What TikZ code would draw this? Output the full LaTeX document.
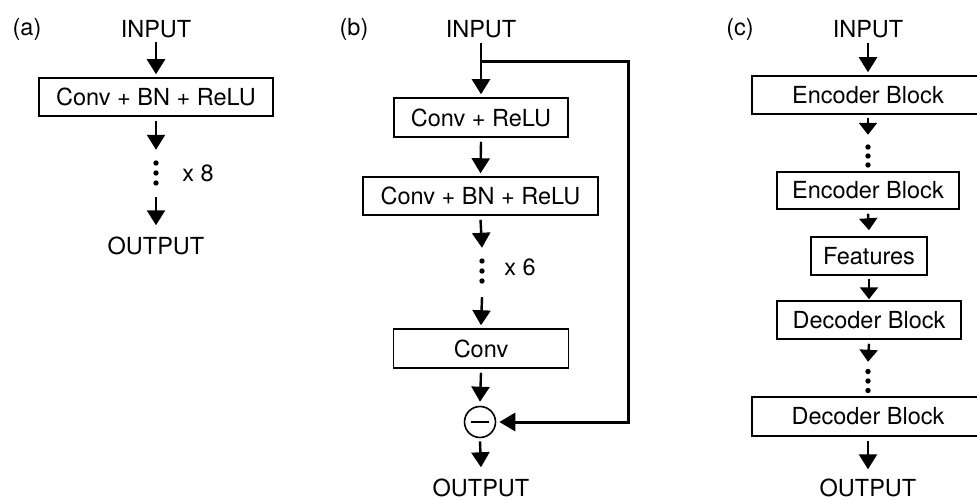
\documentclass[tikz,border=0pt]{standalone}
\usepackage{fontspec}
\setmainfont{TeX Gyre Heros}
\usetikzlibrary{arrows.meta}
\begin{document}
\begin{tikzpicture}[x=1pt,y=-1pt,
  every node/.style={font=\fontsize{23.5}{28}\selectfont},
  txt/.style={inner sep=0pt, text height=17pt, text depth=0pt},
  blk/.style={draw, line width=1.5pt, inner sep=0pt, minimum height=38pt},
  dotcol/.style={inner sep=0pt, minimum width=6pt, minimum height=26pt},
  arr/.style={line width=2.4pt, -{Triangle[width=18pt,length=15pt]}},
  shortarr/.style={line width=2.4pt, -{Triangle[width=18pt,length=12pt]}},
  skipline/.style={line width=3pt, line join=miter, -{Triangle[width=18pt,length=16pt]}},
  sumnode/.style={draw, circle, line width=1.6pt, inner sep=0pt, minimum size=31pt},
]
\useasboundingbox (0,0) rectangle (977,500);
\clip (0,0) rectangle (977,500);

% ---------------- (a) plain stack ----------------
\node[txt] (la) at (27,27) {(a)};
\node[txt] (inA) at (156,29.5) {INPUT};
\node[blk, minimum width=234pt] (boxA) at (156,97) {Conv + BN + ReLU};
\node[dotcol] (dotsA) at (156,173) {};
\foreach \d in {-10,0,10} \fill ([yshift=\d pt]dotsA.center) circle (2.7pt);
\node[txt] (xA) at (198,173) {x 8};
\node[txt] (outA) at (156,246) {OUTPUT};

\draw[arr] ([yshift=-4pt]inA.south) -- ([yshift=3pt]boxA.north);
\draw[arr] ([yshift=-4pt]boxA.south) -- ([yshift=10pt]dotsA.north);
\draw[arr] ([yshift=-11pt]dotsA.south) -- ([yshift=12pt]outA.north);

% ---------------- (b) residual network ----------------
\node[txt] (lb) at (354,27) {(b)};
\node[txt] (inB) at (481,29.5) {INPUT};
\coordinate (jB) at (481,62);
\coordinate (cB) at (628,62);
\node[blk, minimum width=174pt, minimum height=39pt] (boxB1) at (481,117.5) {Conv + ReLU};
\node[blk, minimum width=235pt] (boxB2) at (480.5,196) {Conv + BN + ReLU};
\node[dotcol] (dotsB) at (482,271) {};
\foreach \d in {-10,0,10} \fill ([yshift=\d pt]dotsB.center) circle (2.7pt);
\node[txt] (xB) at (520,266.5) {x 6};
\node[blk, minimum width=175pt, minimum height=39pt] (boxB3) at (481,348.5) {Conv};
\node[sumnode] (sumB) at (480,422) {};
\draw[line width=1.4pt] ([xshift=-9pt]sumB.center) -- ([xshift=9pt]sumB.center);
\node[txt] (outB) at (481,488) {OUTPUT};

\draw[arr] ([yshift=-4.5pt]inB.south) -- ([yshift=3pt]boxB1.north);
\draw[arr] ([yshift=-4pt]boxB1.south) -- ([yshift=3pt]boxB2.north);
\draw[arr] ([yshift=-4pt]boxB2.south) -- ([yshift=10pt]dotsB.north);
\draw[arr] ([yshift=-13pt]dotsB.south) -- ([yshift=3pt]boxB3.north);
\draw[arr] ([yshift=-4pt]boxB3.south) -- ([yshift=4pt]sumB.north);
\draw[arr] ([yshift=-3pt]sumB.south) -- ([yshift=12pt]outB.north);
\draw[skipline] (jB) -- (cB) -- (cB |- sumB.east) -- ([xshift=3pt]sumB.east);

% ---------------- (c) encoder / decoder ----------------
\node[txt] (lc) at (740,27) {(c)};
\node[txt] (inC) at (868,29.5) {INPUT};
\node[blk, minimum width=232pt] (encC1) at (868,95) {Encoder Block};
\node[dotcol] (dotsC1) at (868,156) {};
\foreach \d in {-9,0,9} \fill ([yshift=\d pt]dotsC1.center) circle (2.7pt);
\node[blk, minimum width=182pt, minimum height=37pt] (encC2) at (868,190.5) {Encoder Block};
\node[blk, minimum width=116pt] (feat) at (869,256) {Features};
\node[blk, minimum width=184pt] (decC1) at (869,320) {Decoder Block};
\node[dotcol] (dotsC2) at (868,381) {};
\foreach \d in {-9.5,0,9.5} \fill ([yshift=\d pt]dotsC2.center) circle (2.7pt);
\node[blk, minimum width=232pt, minimum height=39pt] (decC2) at (868,416.5) {Decoder Block};
\node[txt] (outC) at (868,488) {OUTPUT};

\draw[arr] ([yshift=-4.5pt]inC.south) -- ([yshift=3pt]encC1.north);
\draw[shortarr] ([yshift=-3pt]encC1.south) -- ([yshift=8pt]dotsC1.north);
\draw[shortarr] ([yshift=-4pt]encC2.south) -- ([yshift=6pt]feat.north);
\draw[shortarr] ([yshift=-3pt]feat.south) -- ([yshift=1pt]decC1.north);
\draw[shortarr] ([yshift=-4pt]decC1.south) -- ([yshift=6pt]dotsC2.north);
\draw[arr] ([yshift=-4pt]decC2.south) -- ([yshift=10pt]outC.north);
\end{tikzpicture}
\end{document}
